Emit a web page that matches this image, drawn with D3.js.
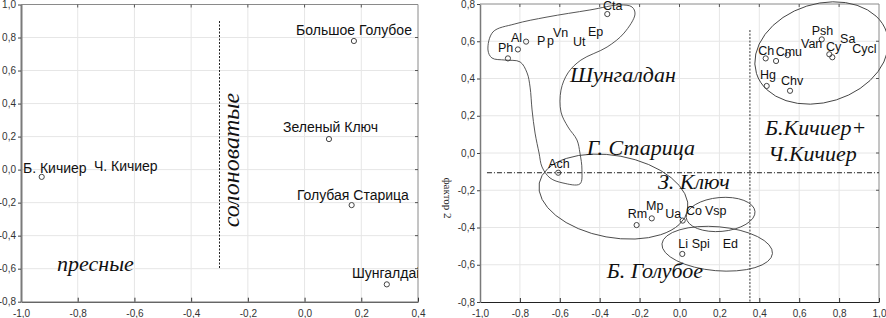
<!DOCTYPE html>
<html><head><meta charset="utf-8">
<script src="https://cdn.jsdelivr.net/npm/d3@7"></script>
<style>
html,body{margin:0;padding:0;background:#fff;}
svg{display:block;}
</style></head>
<body>
<svg id="chart" width="886" height="318"></svg>
<script>
// ---------- LEFT PANEL DATA ----------
const leftXTicks = [-1.0,-0.8,-0.6,-0.4,-0.2,0.0,0.2,0.4];
const leftYTicks = [-0.8,-0.6,-0.4,-0.2,0.0,0.2,0.4,0.6,0.8,1.0];
const leftPointNames = ["Большое Голубое","Зеленый Ключ","Б. Кичиер","Голубая Старица","Шунгалдай"];
const leftPointX = [0.174, 0.086, -0.927, 0.166, 0.290];
const leftPointY = [0.779, 0.185, -0.044, -0.215, -0.695];
const leftLabelText = ["Большое Голубое","Зеленый Ключ","Б. Кичиер","Ч. Кичиер","Голубая Старица","Шунгалдай"];
const leftLabelX = [-0.030, -0.076, -0.993, -0.743, -0.027, 0.167];
const leftLabelY = [0.815, 0.227, -0.021, -0.009, -0.185, -0.658];
const leftDivider = {x:-0.3, y1:0.9, y2:-0.6};
const leftGroupText = ["пресные","солоноватые"];
const leftGroupX = [-0.873, -0.231];
const leftGroupY = [-0.615, 0.058];

// ---------- RIGHT PANEL DATA ----------
const rightXTicks = [-1.0,-0.8,-0.6,-0.4,-0.2,0.0,0.2,0.4,0.6,0.8,1.0];
const rightYTicks = [-0.8,-0.6,-0.4,-0.2,0.0,0.2,0.4,0.6,0.8];
const rightMarkerX = [-0.362,-0.860,-0.810,-0.769, 0.432,0.484,0.542,0.713,0.751,0.766,0.437,0.554, -0.608,-0.215,-0.139,0.016,0.014];
const rightMarkerY = [ 0.746, 0.508, 0.556, 0.598, 0.508,0.494,0.526,0.610,0.530,0.514,0.360,0.334, -0.106,-0.387,-0.351,-0.363,-0.542];
const rightLabelText = ["Cta","Ph","Al","P","p","Vn","Ut","Ep","Ch","Cmu","Van","Psh","Cy","Sa","Cycl","Hg","Chv","Ach","Rm","Mp","Ua","Co","Vsp","Li","Spi","Ed"];
const rightLabelX = [-0.383,-0.910,-0.845,-0.714,-0.664,-0.634,-0.534,-0.459, 0.395,0.482,0.609,0.663,0.734,0.805,0.866,0.404,0.509, -0.658,-0.260,-0.168,-0.071,0.033,0.128,-0.006,0.061,0.217];
const rightLabelY = [ 0.768, 0.542, 0.596, 0.580, 0.580, 0.623, 0.574, 0.628, 0.526,0.521,0.562,0.634,0.549,0.589,0.535,0.396,0.365, -0.079,-0.351,-0.306,-0.351,-0.333,-0.333,-0.512,-0.512,-0.512];
const rightGroupText = ["Шунгалдан","Г. Старица","Б.Кичиер+","Ч.Кичиер","З. Ключ","Б. Голубое"];
const rightGroupX = [-0.549,-0.465,0.429,0.445,-0.108,-0.365];
const rightGroupY = [0.383,-0.011,0.097,-0.043,-0.193,-0.673];
const rightHLine = {y:-0.106, x1:-0.965, x2:1.0};
const rightVLine = {x:0.353, y1:0.660, y2:-0.8};
// ellipses: center, semi-axes (data units), rotation (deg)
const ellipseCX = [0.712,-0.331,0.206,0.189];
const ellipseCY = [0.537,-0.234,-0.330,-0.514];
const ellipseRX = [0.342,0.378,0.173,0.278];
const ellipseRY = [0.264,0.220,0.091,0.118];
const ellipseRot = [-17.5,10.4,-5,5];
// Шунгалдан outline
const blobX = [-0.960,-0.935,-0.825,-0.664,-0.449,-0.298,-0.238,-0.223,-0.278,-0.363,-0.494,-0.559,-0.594,-0.594,-0.559,-0.514,-0.499,-0.489,-0.499,-0.584,-0.649,-0.689,-0.704,-0.724,-0.739,-0.749,-0.764,-0.799,-0.875,-0.940];
const blobY = [0.553,0.650,0.693,0.730,0.768,0.795,0.784,0.746,0.644,0.569,0.499,0.430,0.338,0.220,0.140,0.070,0.000,-0.091,-0.166,-0.161,-0.134,-0.075,0.000,0.107,0.231,0.354,0.430,0.489,0.499,0.510];

const fmt = v => d3.format(".1f")(v).replace(".",",").replace("−","-");
const svg = d3.select("#chart");
const sansFont = "'Liberation Sans', Arial, sans-serif";
const serifFont = "'Liberation Serif', 'Times New Roman', serif";

function frame(g, x, y, xt, yt, leftW) {
  const [x0,x1] = x.range(), [y0,y1] = y.range(); // y0 bottom, y1 top
  g.append("g").selectAll("line").data(xt.slice(1,-1)).join("line")
    .attr("x1",d=>x(d)).attr("x2",d=>x(d)).attr("y1",y1).attr("y2",y0)
    .attr("stroke","#e6e6e6").attr("stroke-width",1);
  g.append("g").selectAll("line").data(yt.slice(1,-1)).join("line")
    .attr("y1",d=>y(d)).attr("y2",d=>y(d)).attr("x1",x0).attr("x2",x1)
    .attr("stroke","#e6e6e6").attr("stroke-width",1);
  g.append("line").attr("x1",x0).attr("x2",x1).attr("y1",y1).attr("y2",y1).attr("stroke","#8a8a8a");
  g.append("line").attr("x1",x1).attr("x2",x1).attr("y1",y1).attr("y2",y0).attr("stroke","#8a8a8a");
  g.append("g").selectAll("line").data(xt.slice(1,-1)).join("line")
    .attr("x1",d=>x(d)).attr("x2",d=>x(d)).attr("y1",y1).attr("y2",y1+3).attr("stroke","#555");
  g.append("g").selectAll("line").data(yt.slice(1,-1)).join("line")
    .attr("y1",d=>y(d)).attr("y2",d=>y(d)).attr("x1",x1).attr("x2",x1-3).attr("stroke","#555");
  const ax = d3.axisBottom(x).tickValues(xt).tickFormat(fmt).tickSizeInner(-4).tickSizeOuter(0).tickPadding(8);
  const gx = g.append("g").attr("transform",`translate(0,${y0})`).call(ax);
  gx.select(".domain").attr("stroke","#222").attr("stroke-width",1);
  gx.selectAll(".tick line").attr("stroke","#333");
  gx.selectAll("text").attr("font-family",sansFont).attr("font-size",10).attr("fill","#333");
  const ay = d3.axisLeft(y).tickValues(yt).tickFormat(fmt).tickSizeInner(3).tickSizeOuter(0).tickPadding(2);
  const gy = g.append("g").attr("transform",`translate(${x0},0)`).call(ay);
  gy.select(".domain").attr("stroke","#7a7a7a").attr("stroke-width",leftW);
  gy.selectAll(".tick line").attr("stroke","#444");
  gy.selectAll("text").attr("font-family",sansFont).attr("font-size",10).attr("fill","#333");
}

// ---------- LEFT PANEL ----------
const lx = d3.scaleLinear().domain([-1,0.4]).range([21,418]);
const ly = d3.scaleLinear().domain([-0.8,1.0]).range([301.7,4.5]);
const gl = svg.append("g");
frame(gl, lx, ly, leftXTicks, leftYTicks, 2);
svg.append("clipPath").attr("id","clipL").append("rect")
  .attr("x",lx(-1)).attr("y",0).attr("width",lx(0.4)-lx(-1)).attr("height",ly(-0.8));
gl.append("line").attr("x1",lx(leftDivider.x)).attr("x2",lx(leftDivider.x))
  .attr("y1",ly(leftDivider.y1)).attr("y2",ly(leftDivider.y2))
  .attr("stroke","#222").attr("stroke-width",1).attr("stroke-dasharray","2,1.5");
const glc = gl.append("g").attr("clip-path","url(#clipL)");
glc.selectAll("circle").data(leftPointNames).join("circle")
  .attr("cx",(d,i)=>lx(leftPointX[i])).attr("cy",(d,i)=>ly(leftPointY[i])).attr("r",2.6)
  .attr("fill","none").attr("stroke","#444").attr("stroke-width",1);
glc.selectAll("text.lab").data(leftLabelText).join("text").attr("class","lab")
  .attr("x",(d,i)=>lx(leftLabelX[i])).attr("y",(d,i)=>ly(leftLabelY[i]))
  .attr("font-family",sansFont).attr("font-size",14).attr("fill","#111").text(d=>d);
gl.append("text").attr("x",lx(leftGroupX[0])).attr("y",ly(leftGroupY[0]))
  .attr("font-family",serifFont).attr("font-style","italic").attr("font-size",22).attr("fill","#111")
  .text(leftGroupText[0]);
gl.append("text").attr("transform",`translate(${lx(leftGroupX[1])},${ly(leftGroupY[1])}) rotate(-90)`)
  .attr("text-anchor","middle")
  .attr("font-family",serifFont).attr("font-style","italic").attr("font-size",24).attr("fill","#111")
  .text(leftGroupText[1]);

// ---------- RIGHT PANEL ----------
const rx = d3.scaleLinear().domain([-1,1]).range([480,879]);
const ry = d3.scaleLinear().domain([-0.8,0.8]).range([302,4]);
const gr = svg.append("g");
frame(gr, rx, ry, rightXTicks, rightYTicks, 1.5);
gr.append("text").attr("transform",`translate(444,198) rotate(90)`).attr("text-anchor","middle")
  .attr("font-family",serifFont).attr("font-size",11).attr("fill","#222").text("фактор 2");
gr.append("line").attr("x1",rx(rightHLine.x1)).attr("x2",rx(rightHLine.x2))
  .attr("y1",ry(rightHLine.y)).attr("y2",ry(rightHLine.y))
  .attr("stroke","#222").attr("stroke-width",1).attr("stroke-dasharray","5,2,1,2");
gr.append("line").attr("x1",rx(rightVLine.x)).attr("x2",rx(rightVLine.x))
  .attr("y1",ry(rightVLine.y1)).attr("y2",ry(rightVLine.y2))
  .attr("stroke","#333").attr("stroke-width",1).attr("stroke-dasharray","2,1.5");
gr.selectAll("ellipse").data(ellipseCX).join("ellipse")
  .attr("transform",(d,i)=>`translate(${rx(ellipseCX[i])},${ry(ellipseCY[i])}) rotate(${ellipseRot[i]})`)
  .attr("rx",(d,i)=>rx(ellipseCX[i]+ellipseRX[i])-rx(ellipseCX[i]))
  .attr("ry",(d,i)=>ry(ellipseCY[i])-ry(ellipseCY[i]+ellipseRY[i]))
  .attr("fill","none").attr("stroke","#444").attr("stroke-width",0.9);
const blob = d3.line().x(d=>rx(d[0])).y(d=>ry(d[1])).curve(d3.curveCatmullRomClosed.alpha(0.5));
gr.append("path").attr("d",blob(blobX.map((v,i)=>[v,blobY[i]])))
  .attr("fill","none").attr("stroke","#444").attr("stroke-width",0.9);
gr.selectAll("circle").data(rightMarkerX).join("circle")
  .attr("cx",(d,i)=>rx(rightMarkerX[i])).attr("cy",(d,i)=>ry(rightMarkerY[i])).attr("r",2.6)
  .attr("fill","none").attr("stroke","#444").attr("stroke-width",1);
gr.selectAll("text.lab").data(rightLabelText).join("text").attr("class","lab")
  .attr("x",(d,i)=>rx(rightLabelX[i])).attr("y",(d,i)=>ry(rightLabelY[i]))
  .attr("font-family",sansFont).attr("font-size",12.5).attr("fill","#111").text(d=>d);
gr.selectAll("text.grp").data(rightGroupText).join("text").attr("class","grp")
  .attr("x",(d,i)=>rx(rightGroupX[i])).attr("y",(d,i)=>ry(rightGroupY[i]))
  .attr("font-family",serifFont).attr("font-style","italic").attr("font-size",22).attr("fill","#111")
  .text(d=>d);
</script>
</body></html>
